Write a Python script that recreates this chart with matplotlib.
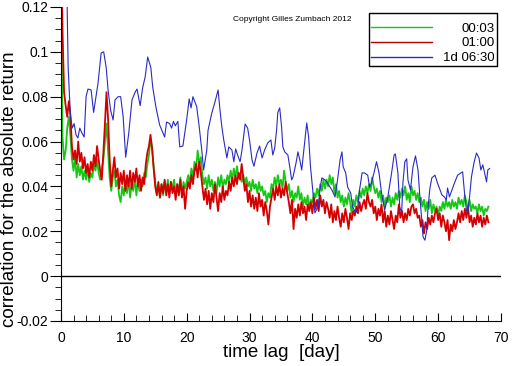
import numpy as np
import matplotlib

matplotlib.use("Agg")
import matplotlib.pyplot as plt
from matplotlib.axes import Axes
from matplotlib.figure import Figure
from matplotlib.ticker import MultipleLocator

plt.rcParams["font.family"] = ["Liberation Sans", "DejaVu Sans"]

# lag grid of the two intraday series (days)
lag_step = 0.25

# correlation x 1000, one value per lag_step starting at lag 0 (8 values = 2 days per row)
corr_0003_milli = [
    150, 62, 52, 56, 66, 71, 63, 52,
    47, 53, 44, 50, 45, 49, 43, 47,
    43, 48, 42, 46, 44, 50, 47, 52,
    46, 43, 48, 52, 60, 68, 56, 44,
    38, 44, 47, 40, 43, 36, 33, 40,
    36, 42, 37, 43, 35, 41, 38, 44,
    36, 42, 38, 43, 40, 46, 44, 50,
    54, 61, 57, 49, 42, 37, 40, 35,
    41, 36, 42, 38, 43, 37, 42, 39,
    43, 37, 41, 38, 44, 36, 42, 39,
    42, 45, 41, 48, 44, 51, 47, 56,
    50, 53, 45, 41, 44, 39, 45, 40,
    43, 38, 42, 37, 44, 40, 45, 39,
    43, 41, 45, 42, 47, 43, 48, 44,
    49, 44, 46, 42, 45, 41, 44, 40,
    42, 38, 43, 39, 41, 37, 42, 38,
    40, 36, 38, 33, 37, 35, 41, 39,
    44, 40, 45, 41, 43, 39, 47, 42,
    38, 41, 35, 38, 33, 37, 35, 40,
    34, 37, 31, 35, 32, 36, 30, 34,
    33, 37, 35, 39, 36, 41, 38, 43,
    39, 43, 40, 45, 41, 44, 37, 41,
    35, 38, 33, 36, 31, 35, 32, 37,
    33, 28, 34, 31, 36, 33, 38, 35,
    39, 36, 40, 37, 41, 38, 44, 40,
    37, 39, 35, 38, 33, 36, 31, 35,
    33, 36, 31, 35, 32, 37, 34, 38,
    35, 39, 36, 40, 34, 37, 33, 40,
    36, 38, 34, 37, 33, 35, 31, 34,
    29, 33, 30, 34, 28, 32, 29, 31,
    27, 31, 29, 33, 30, 34, 31, 33,
    30, 34, 31, 33, 30, 35, 32, 34,
    31, 36, 33, 30, 34, 29, 32, 30,
    31, 28, 32, 29, 31, 27, 30, 29,
    31,
]

corr_0100_milli = [
    150, 110, 82, 76, 71, 78, 72, 58,
    52, 56, 50, 60, 51, 55, 48, 53,
    46, 50, 44, 51, 47, 54, 49, 58,
    52, 47, 43, 55, 68, 82, 70, 52,
    40, 47, 53, 44, 48, 39, 46, 41,
    47, 38, 45, 40, 47, 39, 46, 42,
    48, 40, 45, 38, 44, 41, 50, 55,
    58, 63, 57, 48, 40, 36, 42, 35,
    41, 37, 43, 36, 41, 35, 42, 37,
    40, 34, 41, 36, 43, 35, 40, 30,
    38, 42, 39, 45, 41, 47, 50, 44,
    51, 46, 40, 34, 39, 32, 38, 30,
    37, 33, 41, 35, 29, 37, 33, 40,
    34, 38, 36, 42, 38, 44, 40, 45,
    41, 46, 43, 50, 44, 38, 41, 33,
    38, 31, 36, 30, 35, 29, 37, 31,
    34, 27, 33, 29, 23, 31, 35, 39,
    34, 40, 36, 41, 35, 39, 36, 42,
    37, 33, 28, 34, 21, 30, 26, 32,
    27, 33, 28, 31, 25, 32, 29, 33,
    28, 35, 30, 34, 29, 36, 31, 34,
    28, 33, 30, 26, 32, 24, 29, 25,
    31, 26, 22, 28, 24, 30, 26, 21,
    28, 25, 29, 27, 31, 28, 33, 29,
    32, 34, 30, 37, 33, 31, 34, 28,
    31, 25, 30, 27, 32, 24, 29, 22,
    27, 23, 29, 25, 21, 27, 24, 32,
    26, 29, 24, 28, 25, 30, 27, 31,
    32, 28, 30, 26, 27, 22, 25, 19,
    24, 21, 26, 23, 27, 24, 28, 30,
    25, 28, 22, 27, 24, 20, 25, 16,
    23, 20, 25, 21, 24, 28, 24, 29,
    25, 30, 26, 31, 24, 27, 22, 26,
    23, 28, 24, 27, 22, 26, 23, 27,
    24,
]

# 1d 06:30 series, read point by point
daily_lag = [
    0.85, 1.0, 1.15, 1.3, 1.5, 1.8, 2.1, 2.4, 2.7, 3.0, 3.3, 3.7, 4.0, 4.3, 4.8,
    5.2, 5.9, 6.4, 6.8, 7.2, 7.5, 7.9, 8.3, 8.6, 9.1, 9.5, 9.9, 10.3, 10.8, 11.3,
    11.8, 12.1, 12.6, 13.0, 13.4, 13.8, 14.3, 14.6, 15.1, 15.7, 16.2, 16.5, 16.8,
    17.3, 17.6, 17.9, 18.2, 18.6, 18.9, 19.4, 20.0, 20.4, 20.7, 21.0, 21.6, 22.0,
    22.4, 22.7, 23.2, 23.4, 24.0, 24.5, 25.0, 25.3, 25.6, 25.9, 26.4, 26.7, 27.2,
    27.5, 27.8, 28.1, 28.5, 28.8, 29.3, 29.7, 30.0, 30.4, 30.7, 31.2, 31.6, 32.0,
    32.4, 32.9, 33.4, 33.7, 34.0, 34.3, 34.5, 34.8, 35.1, 35.3, 35.6, 36.1, 36.4,
    36.7, 36.9, 37.4, 37.7, 38.0, 38.3, 38.8, 39.1, 39.4, 39.7, 40.1, 40.4, 40.9,
    41.2, 41.5, 42.0, 42.4, 43.1, 43.6, 44.0, 44.4, 44.7, 44.9, 45.3, 45.6, 46.1,
    46.4, 46.9, 47.2, 47.5, 47.9, 48.3, 48.8, 49.1, 49.4, 49.9, 50.2, 50.6, 51.0,
    51.5, 52.0, 52.6, 53.0, 53.2, 53.6, 53.9, 54.2, 54.4, 54.7, 55.0, 55.2, 55.6,
    56.0, 56.4, 56.8, 57.1, 57.4, 57.6, 57.9, 58.2, 58.4, 58.7, 59.0, 59.5, 59.9,
    60.3, 60.6, 61.0, 61.3, 61.5, 61.8, 62.2, 62.6, 63.1, 63.6, 63.9, 64.2, 64.5,
    64.7, 65.0, 65.3, 65.7, 66.1, 66.5, 66.8, 67.1, 67.4, 67.7, 67.9, 68.2,
]
daily_corr = [
    0.200, 0.118, 0.093, 0.084, 0.072, 0.066, 0.068, 0.063, 0.0616, 0.066, 0.064,
    0.062, 0.080, 0.0834, 0.083, 0.073, 0.086, 0.0995, 0.100, 0.093, 0.083, 0.074,
    0.0696, 0.0785, 0.080, 0.080, 0.071, 0.053, 0.064, 0.0785, 0.082, 0.0834,
    0.076, 0.084, 0.0888, 0.0977, 0.093, 0.0843, 0.0755, 0.0674, 0.064, 0.062,
    0.0687, 0.068, 0.066, 0.069, 0.067, 0.069, 0.0576, 0.058, 0.0696, 0.079,
    0.075, 0.080, 0.0755, 0.0665, 0.0562, 0.0473, 0.0562, 0.065, 0.0727, 0.0776,
    0.083, 0.074, 0.0665, 0.0607, 0.0527, 0.0576, 0.0562, 0.051, 0.0567, 0.054,
    0.051, 0.0562, 0.0678, 0.066, 0.0607, 0.0518, 0.049, 0.055, 0.058, 0.0527,
    0.0562, 0.0594, 0.0607, 0.054, 0.057, 0.065, 0.073, 0.075, 0.0665, 0.0576,
    0.0554, 0.054, 0.0487, 0.0429, 0.044, 0.0505, 0.0554, 0.0518, 0.0473, 0.0607,
    0.0683, 0.062, 0.0487, 0.037, 0.0282, 0.0308, 0.0384, 0.0438, 0.0429, 0.0415,
    0.0384, 0.0353, 0.0429, 0.0518, 0.0554, 0.0487, 0.046, 0.0397, 0.037, 0.0308,
    0.0282, 0.0304, 0.0384, 0.046, 0.046, 0.045, 0.0397, 0.0415, 0.0473, 0.051,
    0.046, 0.037, 0.0295, 0.0353, 0.046, 0.054, 0.0545, 0.046, 0.0308, 0.0282,
    0.0415, 0.051, 0.0523, 0.0429, 0.0384, 0.0487, 0.0536, 0.0473, 0.0353, 0.025,
    0.0175, 0.016, 0.0206, 0.0308, 0.0393, 0.0438, 0.045, 0.0415, 0.0384, 0.0362,
    0.0353, 0.034, 0.0393, 0.0353, 0.0384, 0.0415, 0.045, 0.046, 0.0465, 0.037,
    0.0295, 0.0282, 0.0353, 0.0442, 0.0505, 0.0549, 0.0527, 0.0473, 0.0496, 0.046,
    0.042, 0.0473, 0.048,
]

series_labels = ["00:03", "01:00", "1d 06:30"]
series_colors = ["#14c814", "#d40000", "#2a2ac8"]
legend_colors = ["#14c814", "#b00000", "#2a2ac8"]


def style_axes(ax: Axes):
    ax.set_xlim(0, 70)
    ax.set_ylim(-0.02, 0.12)
    ax.spines["top"].set_visible(False)
    ax.spines["right"].set_visible(False)
    ax.xaxis.set_major_locator(MultipleLocator(10))
    ax.xaxis.set_minor_locator(MultipleLocator(2))
    ax.yaxis.set_minor_locator(MultipleLocator(0.005))
    ax.set_yticks(np.arange(-0.02, 0.121, 0.02))
    ax.set_yticklabels(["-0.02", "0", "0.02", "0.04", "0.06", "0.08", "0.1", "0.12"])
    ax.tick_params(axis="x", which="both", direction="in", pad=7, labelsize=10)
    ax.tick_params(axis="x", which="major", length=6)
    ax.tick_params(axis="x", which="minor", length=4)
    ax.tick_params(axis="y", which="both", direction="out", pad=1, labelsize=10)
    ax.tick_params(axis="y", which="major", length=8)
    ax.tick_params(axis="y", which="minor", length=4)
    ax.set_xlabel("time lag  [day]", fontsize=13.5)
    ax.set_ylabel("correlation for the absolute return", fontsize=13.5)
    ax.xaxis.set_label_coords(0.5, -0.073)
    ax.yaxis.set_label_coords(-0.097, 0.42)
    return ax


def add_legend(fig: Figure, ax: Axes):
    handles = [plt.Line2D([], [], color=c, lw=1) for c in legend_colors]
    leg = ax.legend(
        handles,
        series_labels,
        loc="upper right",
        bbox_to_anchor=(0.991, 0.981),
        fontsize=9.5,
        handlelength=4.6,
        handletextpad=0.9,
        labelspacing=0.19,
        borderpad=0.15,
        borderaxespad=0,
        fancybox=False,
        framealpha=1,
        edgecolor="black",
        title=" ",
        title_fontsize=4.6,
    )
    leg.get_frame().set_linewidth(1)
    # right-align the labels like the original
    fig.canvas.draw()
    widths = [t.get_window_extent().width for t in leg.get_texts()]
    for t, w in zip(leg.get_texts(), widths):
        t.set_x(max(widths) - w)
    return leg


fig, ax = plt.subplots(figsize=(5.12, 3.66), dpi=100)
fig.subplots_adjust(left=0.119, right=0.9785, bottom=0.123, top=0.981)

for milli, color in zip([corr_0003_milli, corr_0100_milli], series_colors[:2]):
    corr = np.array(milli) / 1000
    lag = np.arange(len(corr)) * lag_step
    ax.plot(lag, corr, color=color, lw=1.3)
ax.plot(daily_lag, daily_corr, color=series_colors[2], lw=0.8)

ax.axhline(0, color="black", lw=1)
style_axes(ax)
fig.text(0.57, 0.948, "Copyright Gilles Zumbach 2012", fontsize=6, ha="center", va="center")
add_legend(fig, ax)

fig.savefig("out.png", dpi=100)
